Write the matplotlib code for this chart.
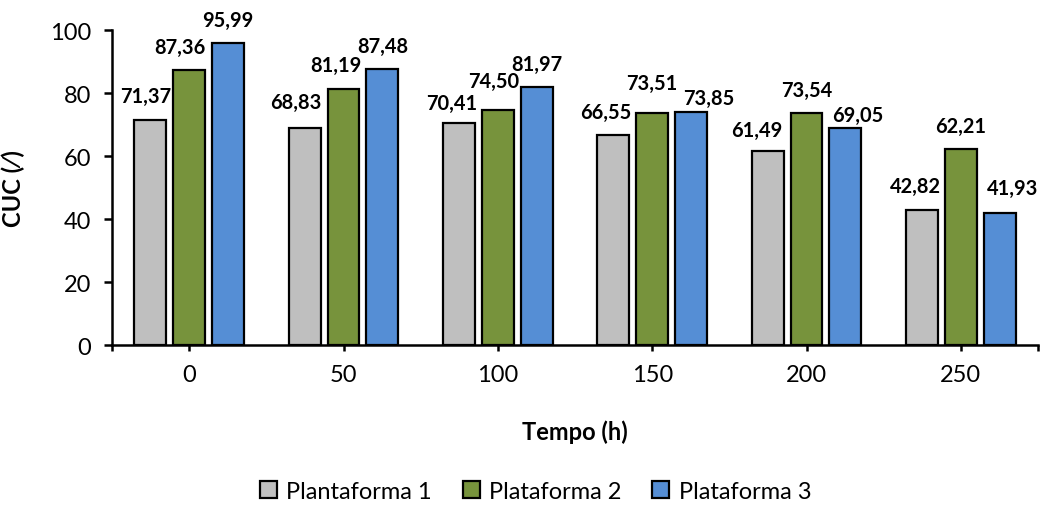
import matplotlib
matplotlib.use("Agg")
import matplotlib.pyplot as plt
import numpy as np

plt.rcParams['font.family'] = ['Lato', 'DejaVu Sans']

# CUC values per time step
tempo = ['0', '50', '100', '150', '200', '250']
plat1 = [71.37, 68.83, 70.41, 66.55, 61.49, 42.82]
plat2 = [87.36, 81.19, 74.50, 73.51, 73.54, 62.21]
plat3 = [95.99, 87.48, 81.97, 73.85, 69.05, 41.93]
nomes = ['Plantaforma 1', 'Plataforma 2', 'Plataforma 3']
cores = ['#BFBFBF', '#77933C', '#558ED5']

# label nudges (px) so the value labels don't collide
dx = [[-5, -9, -7, -8, -11, -7],
      [-9, -8, -4, 0, 0, 0],
      [0, 0, 0, 18, 12, 13]]
dy = [[18, 20, 14, 17, 15, 18],
      [17, 18, 23, 24, 17, 17],
      [17, 17, 17, 8, 7, 19]]

fig = plt.figure(figsize=(10.4, 5.06), dpi=100)
ax = fig.add_axes([0.1077, 0.3162, 0.8904, 0.6225])

x = np.arange(len(tempo))
w = 0.207
passo = 0.252
px = 0.72  # points per pixel at 100 dpi
for i, (serie, nome, cor) in enumerate(zip([plat1, plat2, plat3], nomes, cores)):
    pos = x + (i - 1) * passo
    ax.bar(pos, serie, width=w, color=cor, edgecolor='black', linewidth=1.6, label=nome)
    for j, (xp, v) in enumerate(zip(pos, serie)):
        ax.annotate(f"{v:.2f}".replace('.', ','), (xp, v),
                    xytext=(dx[i][j] * px, dy[i][j] * px),
                    textcoords='offset points', ha='center', va='baseline',
                    fontsize=14.4, fontweight='bold')

ax.set_xlim(-0.5, 5.5)
ax.set_ylim(0, 100)
ax.set_xticks(x)
ax.set_xticklabels(tempo)
ax.set_xticks([-0.5, 5.5], minor=True)
ax.set_yticks(np.arange(0, 101, 20))

for s in ['top', 'right']:
    ax.spines[s].set_visible(False)
for s in ['left', 'bottom']:
    ax.spines[s].set_linewidth(1.8)
ax.tick_params(axis='both', which='both', width=1.8, labelsize=17, direction='out')
ax.tick_params(axis='y', length=6, pad=9)
ax.tick_params(axis='x', which='both', length=4, pad=10)

ax.set_xlabel('Tempo (h)', fontsize=17, fontweight='bold')
ax.set_ylabel('CUC (\u2009\u2044\u2009)', fontsize=17, fontweight='bold')
ax.xaxis.set_label_coords(0.5, -0.235)
ax.yaxis.set_label_coords(-0.094, 0.5)

fig.legend(loc='center', bbox_to_anchor=(0.515, 0.027), ncol=3, frameon=False,
           fontsize=17, handlelength=0.72, handleheight=0.72, handletextpad=0.4,
           columnspacing=1.3)

fig.savefig('out.png', dpi=100)
